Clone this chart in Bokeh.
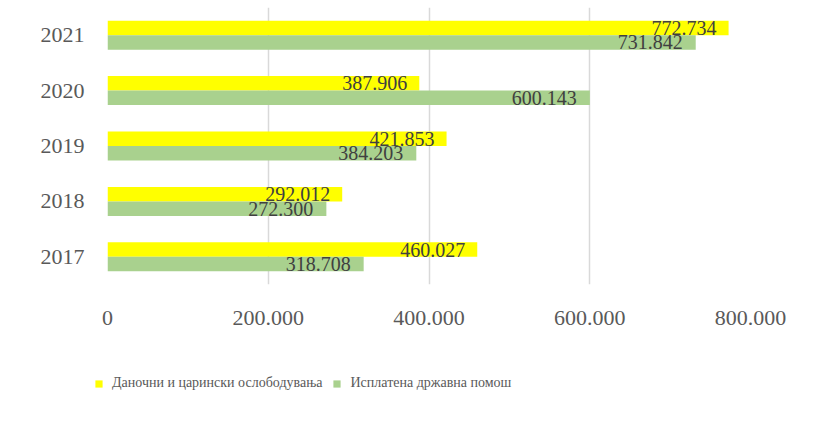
from bokeh.plotting import figure
from bokeh.layouts import column, row
from bokeh.models import ColumnDataSource, Range1d, FactorRange, Legend, LegendItem, CustomJSTickFormatter
from bokeh.transform import dodge
from bokeh.core.properties import value
from bokeh.embed import file_html
from bokeh.resources import INLINE

years = ["2017", "2018", "2019", "2020", "2021"]
tax_exempt = [460027, 292012, 421853, 387906, 772734]
state_aid = [318708, 272300, 384203, 600143, 731842]
series_names = ["Даночни и царински ослободувања", "Исплатена државна помош"]
tick_values = [0, 200000, 400000, 600000, 800000]
colors = ["#FFFF00", "#A9D18E"]

def fmt(v):
    return f"{v:,}".replace(",", ".")

src = ColumnDataSource(dict(
    years=years, tax=tax_exempt, aid=state_aid,
    tax_lbl=[fmt(v) for v in tax_exempt], aid_lbl=[fmt(v) for v in state_aid],
))

FONT = "Liberation Serif"
p = figure(width=822, height=345, y_range=FactorRange(*years), x_range=Range1d(0, 800000),
           output_backend="svg", toolbar_location=None,
           min_border_left=107, min_border_right=72, min_border_top=7, min_border_bottom=61)
p.outline_line_color = None
p.background_fill_color = "white"
p.border_fill_color = "white"

bh = 0.262
p.hbar(y=dodge("years", bh / 2, range=p.y_range), right="tax", left=0, height=bh,
       source=src, fill_color=colors[0], line_color=None)
p.hbar(y=dodge("years", -bh / 2, range=p.y_range), right="aid", left=0, height=bh,
       source=src, fill_color=colors[1], line_color=None)

p.text(x="tax", y=dodge("years", bh / 2, range=p.y_range), text="tax_lbl", source=src,
       text_align="right", text_baseline="middle", x_offset=-12, y_offset=0,
       text_font=value(FONT), text_font_size="20px", text_color="#404040")
p.text(x="aid", y=dodge("years", -bh / 2, range=p.y_range), text="aid_lbl", source=src,
       text_align="right", text_baseline="middle", x_offset=-13, y_offset=0,
       text_font=value(FONT), text_font_size="20px", text_color="#404040")

p.xaxis.ticker = tick_values
p.xaxis.formatter = CustomJSTickFormatter(code="return tick.toLocaleString('de-DE');")
p.xaxis.axis_line_color = None
p.xaxis.major_tick_line_color = None
p.xaxis.minor_tick_line_color = None
p.xaxis.major_label_text_font = FONT
p.xaxis.major_label_text_font_size = "22px"
p.xaxis.major_label_text_color = "#595959"
p.xaxis.major_label_standoff = 20

p.yaxis.axis_line_color = None
p.yaxis.major_tick_line_color = None
p.yaxis.major_label_text_font = FONT
p.yaxis.major_label_text_font_size = "22px"
p.yaxis.major_label_text_color = "#595959"
p.yaxis.major_label_standoff = 17

p.xgrid.grid_line_color = "#D9D9D9"
p.xgrid.grid_line_width = 1.5
p.ygrid.grid_line_color = None

# legend strip below the chart (swatch glyphs sit outside the visible range)
lg = figure(width=822, height=89, x_range=Range1d(0, 1), y_range=Range1d(0, 1),
            output_backend="svg", toolbar_location=None, x_axis_type=None, y_axis_type=None,
            min_border=0, min_border_left=0, min_border_right=0, min_border_top=0, min_border_bottom=0)
lg.outline_line_color = None
lg.grid.grid_line_color = None
offscreen = ColumnDataSource(dict(y=[-10], right=[-9]))
d1 = lg.hbar(y="y", left=-10, right="right", height=0.1, source=offscreen, fill_color=colors[0], line_color=None)
d2 = lg.hbar(y="y", left=-10, right="right", height=0.1, source=offscreen, fill_color=colors[1], line_color=None)
legend = Legend(items=[LegendItem(label=series_names[0], renderers=[d1]),
                       LegendItem(label=series_names[1], renderers=[d2])],
                orientation="horizontal", location=(94, 43),
                glyph_width=9, glyph_height=9, label_standoff=9, spacing=10,
                label_text_font=FONT, label_text_font_size="14px", label_text_color="#595959",
                border_line_color=None, background_fill_alpha=0, padding=0, margin=0)
lg.add_layout(legend, "center")

open("out.html", "w").write(file_html(column(p, row(lg, spacing=0), spacing=0), INLINE))
